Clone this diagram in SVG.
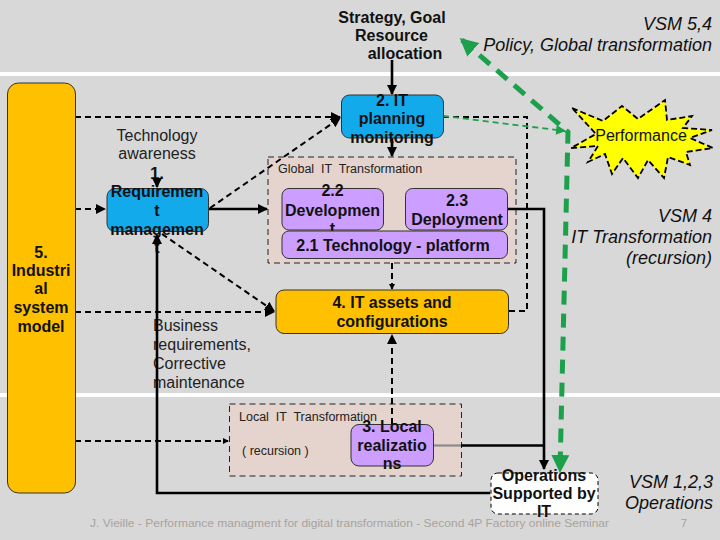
<svg xmlns="http://www.w3.org/2000/svg" width="720" height="540" viewBox="0 0 720 540">
<style>
text{font-family:"Liberation Sans",Arial,sans-serif;fill:#111}
.b{font-weight:bold;font-size:16px}
.n{font-size:16px;fill:#222}
.s{font-size:12.5px;fill:#222;white-space:pre}
.i{font-style:italic;font-size:18px}
.m{text-anchor:middle}
.e{text-anchor:end}
.box{stroke:#333;stroke-width:1}
.blue{fill:#12AAEB}
.purp{fill:#CC9EFF}
.orng{fill:#FFC000}
.zone{fill:#E5D3CD;stroke:#222;stroke-width:1;stroke-dasharray:6 4}
.sl{fill:none;stroke:#000;stroke-width:2.6}
.dl{fill:none;stroke:#000;stroke-width:2;stroke-dasharray:6 4}
.ga{fill:none;stroke:#1DA04C;stroke-width:1.8;stroke-dasharray:6 4}
.gb{fill:none;stroke:#1DA04C;stroke-width:5;stroke-dasharray:14 9}
</style>
<defs>
<marker id="ar" markerUnits="userSpaceOnUse" markerWidth="10" markerHeight="10" refX="9" refY="5" orient="auto"><path d="M0,0 L10,5 L0,10 z" fill="#000"/></marker>
<marker id="ars" markerUnits="userSpaceOnUse" markerWidth="6" markerHeight="6" refX="5" refY="3" orient="auto"><path d="M0,0 L6,3 L0,6 z" fill="#000"/></marker>
<marker id="ag" markerUnits="userSpaceOnUse" markerWidth="10" markerHeight="10" refX="9" refY="5" orient="auto"><path d="M0,0 L10,5 L0,10 z" fill="#1DA04C"/></marker>
<marker id="agb" markerUnits="userSpaceOnUse" markerWidth="18" markerHeight="18" refX="15" refY="9" orient="auto-start-reverse"><path d="M0,0 L18,9 L0,18 z" fill="#1DA04C"/></marker>
</defs>
<rect x="0" y="0" width="720" height="540" fill="#D8D8D8"/>
<rect x="0" y="72" width="720" height="4" fill="#FFFFFF"/>
<rect x="0" y="393" width="720" height="4" fill="#FFFFFF"/>

<g id="zone-global"><rect class="zone" x="268" y="157" width="248" height="106"/><text class="s" x="278" y="173" xml:space="preserve">Global  IT  Transformation</text></g>
<g id="zone-local"><rect class="zone" x="229.5" y="404" width="232" height="72"/><text class="s" x="239" y="421" xml:space="preserve">Local  IT  Transformation</text><text class="s" x="242" y="455" xml:space="preserve">( recursion )</text></g>

<g id="connectors">
<path class="dl" d="M75,117 H340" marker-end="url(#ar)"/>
<path class="dl" d="M75,209 H105" marker-end="url(#ar)"/>
<path class="dl" d="M75,312 H274" marker-end="url(#ar)"/>
<path class="dl" d="M75,441 H228" marker-end="url(#ars)"/>
<path class="sl" d="M392,60 V94" marker-end="url(#ar)"/>
<path class="sl" d="M392,138 V156" marker-end="url(#ar)"/>
<path class="sl" d="M208,209 H267" marker-end="url(#ar)"/>
<path class="dl" d="M210,208 L340,118" marker-end="url(#ar)"/>
<path class="dl" d="M162,234 L274,311" marker-end="url(#ar)"/>
<path class="dl" d="M443,117 H527 V311 H508"/>
<path class="dl" d="M392,263 V289" marker-end="url(#ars)"/>
<path class="dl" d="M392,424 V335" marker-end="url(#ar)"/>
<path class="sl" d="M508,209 H544 V469" marker-end="url(#ar)"/>
<path d="M433,445.5 H461" stroke="#8a8a8a" stroke-width="2.2" fill="none"/>
<path class="sl" d="M461,445.5 H544"/>
<path class="ga" d="M443,116 L565,131" marker-end="url(#ag)"/>
</g>

<g id="left-bar"><rect class="box orng" x="7.5" y="83" width="68" height="410" rx="11"/>
<text class="b m" x="41" y="257.5">5.</text><text class="b m" x="41" y="275.5">Industri</text><text class="b m" x="41" y="293.5">al</text><text class="b m" x="41" y="312.5">system</text><text class="b m" x="41" y="332">model</text></g>

<g id="strategy"><text class="b m" x="392" y="22.5">Strategy, Goal</text><text class="b m" x="391.5" y="40.5">Resource</text><text class="b m" x="405" y="58.5">allocation</text></g>
<g id="vsm54"><text class="i e" x="712" y="29.5">VSM 5,4</text><text class="i e" x="712" y="51">Policy, Global transformation</text></g>

<g id="it-planning"><rect class="box blue" x="341.5" y="95" width="102" height="43" rx="8"/>
<text class="b m" x="392" y="105.5">2. IT</text><text class="b m" x="392" y="123.5">planning</text><text class="b m" x="392" y="142.5">monitoring</text></g>

<g id="performance"><polygon points="572,108 603,121 622,106 638,119 665,100 667,120 692,116 683,128 712,130 690,138 713,148 686,152 690,165 668,157 664,178 648,160 638,178 623,158 612,174 605,154 588,162 598,146 571,148 596,134" fill="#FFFF00" stroke="#000" stroke-width="1.8" stroke-dasharray="6 3"/>
<text class="n m" x="641" y="140.5" style="fill:#111">Performance</text></g>

<g id="tech-awareness"><text class="n m" x="157" y="140.5">Technology</text><text class="n m" x="157" y="158.8">awareness</text></g>

<g id="req-mgmt"><text class="b m" x="157" y="179" style="font-size:17px">1.</text>
<path class="sl" d="M157,180 V187" marker-end="url(#ar)"/>
<rect class="box blue" x="107" y="188.5" width="101.5" height="43" rx="8"/>
<text class="b m" x="157" y="197">Requiremen</text><text class="b m" x="157" y="216">t</text><text class="b m" x="157" y="234.5">managemen</text><text class="b m" x="157" y="253">t</text></g>

<g id="business-req"><text class="n" x="153" y="331">Business</text><text class="n" x="153" y="350">requirements,</text><text class="n" x="153" y="369">Corrective</text><text class="n" x="153" y="388">maintenance</text></g>

<g id="return-line"><path class="sl" d="M490,493 H157 V235" marker-end="url(#ar)"/></g>

<g id="dev"><rect class="box purp" x="282" y="188.5" width="101.5" height="41.5" rx="7"/>
<text class="b m" x="332.5" y="195.5">2.2</text><text class="b m" x="332.5" y="215.5">Developmen</text><text class="b m" x="332.5" y="233.5">t</text></g>
<g id="deploy"><rect class="box purp" x="405.5" y="188.5" width="102" height="41.5" rx="7"/>
<text class="b m" x="457" y="205.5">2.3</text><text class="b m" x="457" y="224.5">Deployment</text></g>
<g id="platform"><rect class="box purp" x="282" y="231" width="225.5" height="27.5" rx="7"/>
<text class="b m" x="393" y="250.5">2.1 Technology - platform</text></g>

<g id="it-assets"><rect class="box orng" x="276" y="290" width="232.5" height="43.5" rx="8"/>
<text class="b m" x="392" y="308">4. IT assets and</text><text class="b m" x="392" y="327">configurations</text></g>

<g id="local-real"><rect class="box purp" x="351" y="424.5" width="82.5" height="41.5" rx="8"/>
<text class="b m" x="392" y="432">3. Local</text><text class="b m" x="392" y="450.5">realizatio</text><text class="b m" x="392" y="469">ns</text></g>

<g id="operations"><rect x="491" y="473" width="107" height="41" rx="7" fill="#FFFFFF" stroke="#000" stroke-width="1" stroke-dasharray="4 3"/>
<text class="b m" x="544" y="480.5">Operations</text><text class="b m" x="544" y="499">Supported by</text><text class="b m" x="544" y="517">IT</text></g>

<g id="vsm4"><text class="i e" x="712" y="221.5">VSM 4</text><text class="i e" x="712" y="242.5">IT Transformation</text><text class="i e" x="712" y="263.5">(recursion)</text></g>
<g id="vsm123"><text class="i e" x="713" y="488">VSM 1,2,3</text><text class="i e" x="713" y="509">Operations</text></g>

<g id="green-loop"><path class="gb" d="M462,40 L568,132 L560,470" marker-start="url(#agb)" marker-end="url(#agb)"/></g>

<g id="footer"><text x="349.5" y="527" text-anchor="middle" style="font-size:11.5px;fill:#A8A39C" textLength="519" lengthAdjust="spacingAndGlyphs">J. Vieille - Performance managment for digital transformation - Second 4P Factory online Seminar</text>
<text x="684" y="527" text-anchor="middle" style="font-size:11.5px;fill:#A8A39C">7</text></g>
</svg>
